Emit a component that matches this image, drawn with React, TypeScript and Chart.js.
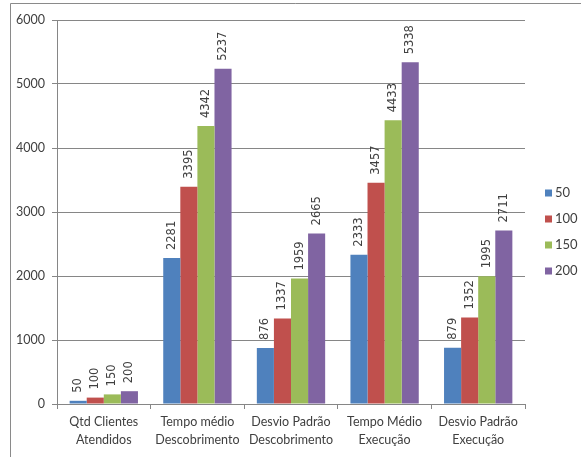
import React, { useEffect, useRef } from "react";
import { Chart, registerables } from "chart.js";

Chart.register(...registerables);

const categories: string[][] = [
  ["Qtd Clientes", "Atendidos"],
  ["Tempo médio", "Descobrimento"],
  ["Desvio Padrão", "Descobrimento"],
  ["Tempo Médio", "Execução"],
  ["Desvio Padrão", "Execução"],
];
const seriesNames = ["50", "100", "150", "200"];
const series50 = [50, 2281, 876, 2333, 879];
const series100 = [100, 3395, 1337, 3457, 1352];
const series150 = [150, 4342, 1959, 4433, 1995];
const series200 = [200, 5237, 2665, 5338, 2711];
const colors = ["#4F81BD", "#C0504D", "#9BBB59", "#8064A2"];
const yTicks = [0, 1000, 2000, 3000, 4000, 5000, 6000];

const labelFont = "Lato";

const framePlugin = {
  id: "frame",
  beforeDraw(chart: any) {
    const ctx = chart.ctx;
    ctx.save();
    ctx.fillStyle = "#ffffff";
    ctx.fillRect(0, 0, chart.width, chart.height);
    ctx.strokeStyle = "#8a8a8a";
    ctx.lineWidth = 1;
    ctx.beginPath();
    ctx.moveTo(10.5, chart.height);
    ctx.lineTo(10.5, 3.5);
    ctx.lineTo(chart.width, 3.5);
    ctx.stroke();
    ctx.restore();
  },
};

const valueLabelPlugin = {
  id: "valueLabels",
  afterDatasetsDraw(chart: any) {
    const ctx = chart.ctx;
    ctx.save();
    ctx.font = "11.5px 'DejaVu Sans'";
    ctx.fillStyle = "#404040";
    ctx.textAlign = "left";
    ctx.textBaseline = "middle";
    chart.data.datasets.forEach((ds: any, i: number) => {
      const meta = chart.getDatasetMeta(i);
      meta.data.forEach((bar: any, j: number) => {
        ctx.save();
        ctx.translate(bar.x, bar.y - 8);
        ctx.rotate(-Math.PI / 2);
        ctx.fillText(String(ds.data[j]), 0, 0);
        ctx.restore();
      });
    });
    ctx.restore();
  },
};

const legendPlugin = {
  id: "customLegend",
  afterDraw(chart: any) {
    const ctx = chart.ctx;
    ctx.save();
    ctx.font = `13px ${labelFont}`;
    ctx.textBaseline = "middle";
    ctx.textAlign = "left";
    chart.data.datasets.forEach((ds: any, i: number) => {
      const y = 193 + i * 26;
      ctx.fillStyle = ds.backgroundColor;
      ctx.fillRect(545, y - 3.5, 7, 7);
      ctx.fillStyle = "#404040";
      ctx.fillText(ds.label, 555, y);
    });
    ctx.restore();
  },
};

export default function App() {
  const ref = useRef<HTMLCanvasElement | null>(null);
  useEffect(() => {
    if (!ref.current) return;
    const all = [series50, series100, series150, series200];
    const chart = new Chart(ref.current, {
      type: "bar",
      data: {
        labels: categories,
        datasets: all.map((d, i) => ({
          label: seriesNames[i],
          data: d,
          backgroundColor: colors[i],
          borderWidth: 0,
          categoryPercentage: 0.73,
          barPercentage: 1,
        })),
      },
      options: {
        animation: false,
        responsive: false,
        maintainAspectRatio: false,
        layout: { padding: { left: 0, right: 56, top: 20, bottom: 0 } },
        plugins: {
          legend: { display: false },
          tooltip: { enabled: false },
        },
        scales: {
          x: {
            offset: true,
            grid: {
              offset: true,
              drawOnChartArea: false,
              drawTicks: true,
              tickLength: 5,
              color: "#868686",
            },
            border: { color: "#868686" },
            ticks: {
              font: { family: labelFont, size: 12.5, lineHeight: 1.45 },
              color: "#404040",
              padding: 4,
              maxRotation: 0,
              autoSkip: false,
            },
            afterFit(scale: any) {
              scale.height = 53;
            },
          },
          y: {
            min: 0,
            max: 6000,
            afterBuildTicks(scale: any) {
              scale.ticks = yTicks.map((v) => ({ value: v }));
            },
            grid: {
              color: "#868686",
              tickLength: 5,
            },
            border: { color: "#868686" },
            ticks: {
              font: { family: labelFont, size: 12.5 },
              color: "#404040",
              padding: 7,
              callback: (v: any) => String(v),
            },
            afterFit(scale: any) {
              scale.width = 57;
            },
          },
        },
      },
      plugins: [framePlugin, valueLabelPlugin, legendPlugin],
    });
    return () => chart.destroy();
  }, []);
  return (
    <div style={{ position: "absolute", left: 0, top: 0, width: 581, height: 457 }}>
      <canvas ref={ref} width={581} height={457} style={{ width: 581, height: 457 }} />
    </div>
  );
}
